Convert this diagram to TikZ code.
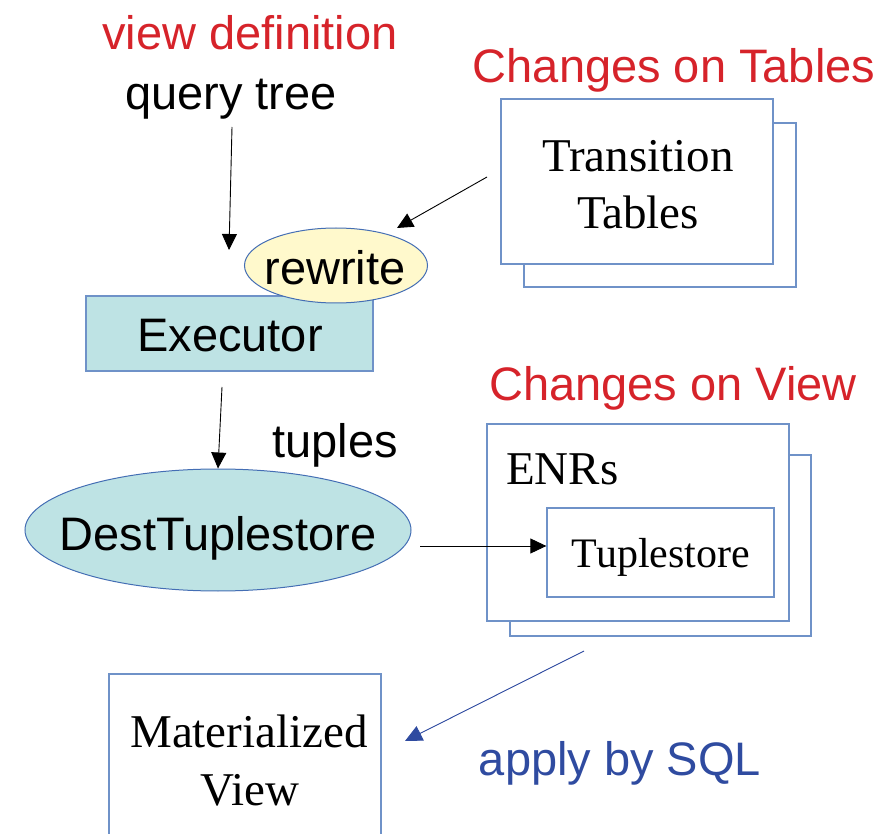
\documentclass[tikz,border=0pt]{standalone}
\usepackage{fontspec}
\setmainfont{Liberation Serif}
\setsansfont{Liberation Sans}
\usetikzlibrary{arrows.meta,shapes.geometric}
\definecolor{redtxt}{RGB}{214,35,42}
\definecolor{bluetxt}{RGB}{47,75,160}
\definecolor{boxline}{RGB}{111,146,200}
\definecolor{ovalline}{RGB}{68,110,180}
\definecolor{tealfill}{RGB}{190,227,228}
\definecolor{creamfill}{RGB}{255,249,204}
\begin{document}
\begin{tikzpicture}[x=1pt,y=-1pt,
  lbl/.style={inner sep=0pt, outer sep=0pt, anchor=base},
  sanslbl/.style={lbl, font=\sffamily\fontsize{47}{57}\selectfont},
  seriflbl/.style={lbl, font=\rmfamily\fontsize{47}{57}\selectfont},
  frame/.style={draw=boxline, line width=1.3pt, fill=white, inner sep=0pt},
  oval/.style={ellipse, draw=ovalline, line width=1pt, inner sep=0pt},
  arr/.style={-{Triangle[length=16pt,width=15pt]}, line width=0.9pt},
]
\useasboundingbox (0,0) rectangle (879,834);

% ---- top-left: query tree feeding the executor
\node[sanslbl, text=redtxt] (viewdef) at (250,50) {view definition};
\node[sanslbl] (qtree) at (231,110) {query tree};

% ---- transition tables (stacked frames)
\node[frame, minimum width=272pt, minimum height=164pt] (ttback) at (660,205) {};
\node[frame, minimum width=272pt, minimum height=165pt] (ttfront) at (637,181.5) {};
\node[sanslbl, text=redtxt] (chgtab) at (674,83) {Changes on Tables};
\node[seriflbl] (tt1) at (638,172) {Transition};
\node[seriflbl] (tt2) at (638,229) {Tables};

% ---- executor with the rewrite step
\node[draw=boxline, line width=1.3pt, fill=tealfill, minimum width=287pt,
      minimum height=75pt, inner sep=0pt] (exec) at (229.5,333.5) {};
\node[sanslbl] (exectxt) at (230,352) {Executor};
\node[oval, fill=creamfill, minimum width=183pt, minimum height=75pt] (rewrite) at (336,265.5) {};
\node[sanslbl] (rewritetxt) at (335,285) {rewrite};

% ---- tuples to the destination tuplestore
\node[sanslbl] (tuples) at (335,457) {tuples};
\node[oval, fill=tealfill, minimum width=386pt, minimum height=122pt] (dest) at (218,530) {};
\node[sanslbl] (desttxt) at (218,550) {DestTuplestore};

% ---- ENRs holding the tuplestore
\node[sanslbl, text=redtxt] (chgview) at (673,401) {Changes on View};
\node[frame, minimum width=301pt, minimum height=181pt] (enrback) at (660.5,545.5) {};
\node[frame, minimum width=302pt, minimum height=197pt] (enrfront) at (638,522.5) {};
\node[seriflbl, anchor=base west] (enrs) at (506,485) {ENRs};
\node[frame, minimum width=227pt, minimum height=89pt] (tstore) at (660.5,552.5) {};
\node[seriflbl, font=\rmfamily\fontsize{42}{50}\selectfont] (tstoretxt) at (661,567) {Tuplestore};

% ---- materialized view (open at the bottom edge)
\draw[boxline, line width=1.3pt] (109,840) -- (109,674) -- (381,674) -- (381,840);
\node[seriflbl] (mv1) at (249,747) {Materialized};
\node[seriflbl] (mv2) at (250,805) {View};
\node[sanslbl, text=bluetxt] (apply) at (620,775) {apply by SQL};

% ---- connectors
\coordinate (qa) at (232,127);
\coordinate (qb) at (229,250);
\draw[arr] (qa) -- (qb);

\coordinate (ta) at (487,177);
\coordinate (tb) at (397,228);
\draw[arr] (ta) -- (tb);

\coordinate (ea) at (222,387);
\draw[arr] (ea) -- (dest.north);

\coordinate (da) at (420,546);
\coordinate (db) at (tstore.west |- da);
\draw[arr] (da) -- (db);

\coordinate (va) at (584,651);
\coordinate (vb) at (405,741);
\draw[draw=bluetxt, fill=bluetxt, line width=0.9pt,
      -{Triangle[length=17pt,width=16pt]}] (va) -- (vb);
\end{tikzpicture}
\end{document}
